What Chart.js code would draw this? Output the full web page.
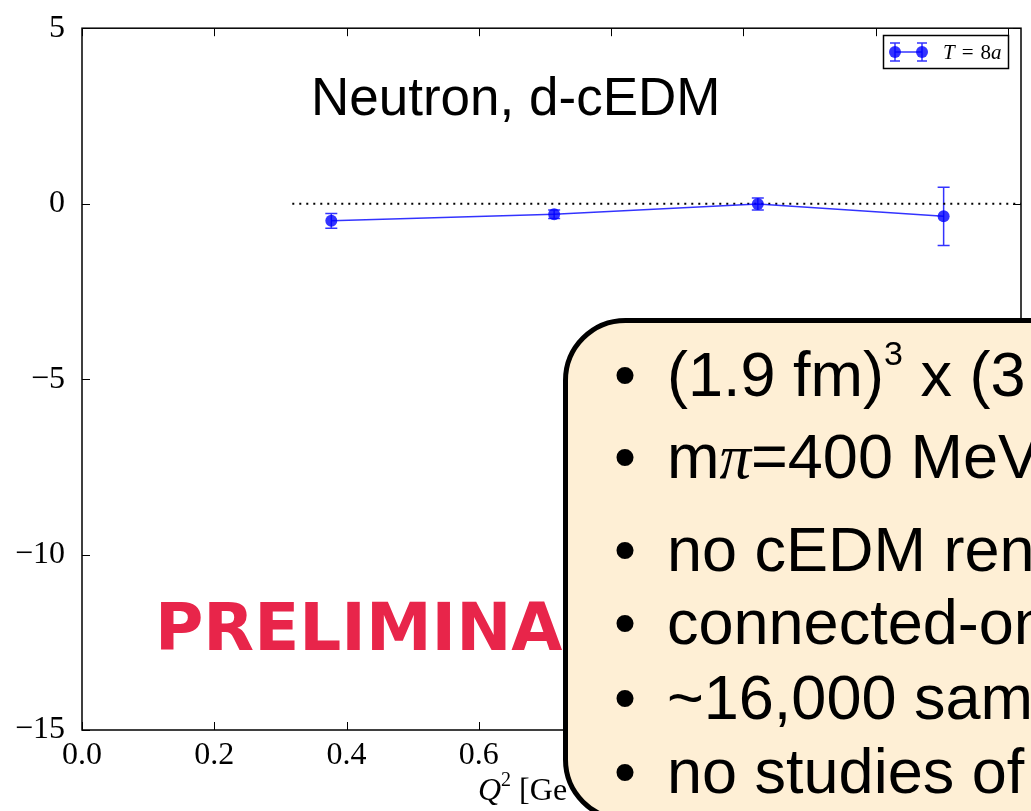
<!DOCTYPE html>
<html>
<head>
<meta charset="utf-8">
<script src="https://cdn.jsdelivr.net/npm/chart.js@4/dist/chart.umd.min.js"></script>
<style>
  html, body { margin: 0; padding: 0; background: #fff; }
  #wrap { width: 1031px; height: 811px; }
</style>
</head>
<body>
<div id="wrap"><canvas id="chart-dcedm" width="1031" height="811"></canvas></div>
<script>
// data
const q2 = [0.377, 0.714, 1.022, 1.303];
const dcedm = [-0.49, -0.30, -0.01, -0.36];
const dcedmErr = [0.21, 0.12, 0.17, 0.83];
const zeroLineX = [0.318, 1.42];
const xTicks = [0, 0.2, 0.4, 0.6, 0.8, 1.0, 1.2, 1.4];
const yTicks = [5, 0, -5, -10, -15];

const blue = 'rgba(0,0,255,0.8)';
const serif = '"Liberation Serif", "Times New Roman", serif';
const sans = '"Liberation Sans", Arial, sans-serif';

const canvas = document.getElementById('chart-dcedm');

// error bars, drawn under the markers
const errorBars = {
  id: 'errorBars',
  beforeDatasetsDraw(chart) {
    const ctx = chart.ctx, xs = chart.scales.x, ys = chart.scales.y;
    ctx.save();
    ctx.strokeStyle = blue;
    ctx.lineWidth = 1.5;
    ctx.beginPath();
    q2.forEach((q, i) => {
      const px = xs.getPixelForValue(q);
      const top = ys.getPixelForValue(dcedm[i] + dcedmErr[i]);
      const bot = ys.getPixelForValue(dcedm[i] - dcedmErr[i]);
      ctx.moveTo(px, top); ctx.lineTo(px, bot);
      ctx.moveTo(px - 6, top); ctx.lineTo(px + 6, top);
      ctx.moveTo(px - 6, bot); ctx.lineTo(px + 6, bot);
    });
    ctx.stroke();
    ctx.restore();
  }
};

// frame, inward ticks, legend and the slide overlay
const decorations = {
  id: 'decorations',
  afterDraw(chart) {
    const ctx = chart.ctx, a = chart.chartArea;
    const xs = chart.scales.x, ys = chart.scales.y;
    ctx.save();

    // frame
    ctx.strokeStyle = '#000';
    ctx.lineWidth = 1.5;
    ctx.strokeRect(a.left, a.top, a.right - a.left, a.bottom - a.top);

    // inward ticks
    ctx.lineWidth = 1;
    ctx.beginPath();
    xTicks.forEach(v => {
      const px = Math.round(xs.getPixelForValue(v)) + 0.5;
      ctx.moveTo(px, a.bottom); ctx.lineTo(px, a.bottom - 8);
      ctx.moveTo(px, a.top); ctx.lineTo(px, a.top + 8);
    });
    yTicks.forEach(v => {
      const py = Math.round(ys.getPixelForValue(v)) + 0.5;
      ctx.moveTo(a.left, py); ctx.lineTo(a.left + 8, py);
      ctx.moveTo(a.right, py); ctx.lineTo(a.right - 8, py);
    });
    ctx.stroke();

    // legend
    ctx.fillStyle = '#fff';
    ctx.fillRect(883.5, 35.5, 125, 33);
    ctx.lineWidth = 1.5;
    ctx.strokeRect(883.5, 35.5, 125, 33);
    ctx.strokeStyle = blue;
    ctx.fillStyle = blue;
    ctx.beginPath();
    ctx.moveTo(895, 52); ctx.lineTo(922, 52);
    [895, 922].forEach(mx => {
      ctx.moveTo(mx, 43); ctx.lineTo(mx, 61);
      ctx.moveTo(mx - 5, 43); ctx.lineTo(mx + 5, 43);
      ctx.moveTo(mx - 5, 61); ctx.lineTo(mx + 5, 61);
    });
    ctx.stroke();
    [895, 922].forEach(mx => {
      ctx.beginPath(); ctx.arc(mx, 52, 6, 0, Math.PI * 2); ctx.fill();
    });
    ctx.fillStyle = '#000';
    ctx.textBaseline = 'alphabetic';
    let tx = 943;
    [['T', 'italic', 7], ['=', 'normal', 7], ['8', 'normal', 0], ['a', 'italic', 0]].forEach(([s, st, gap]) => {
      ctx.font = st + ' 21px ' + serif;
      ctx.fillText(s, tx, 59);
      tx += ctx.measureText(s).width + gap;
    });

    // title inside the plot
    ctx.font = '53px ' + sans;
    ctx.fillText('Neutron, d-cEDM', 311, 115);

    // PRELIMINARY stamp
    ctx.fillStyle = '#e8254a';
    ctx.font = 'bold 66px "DejaVu Sans", Verdana, sans-serif';
    ctx.fillText('PRELIMINARY', 155, 650);

    // x axis title
    ctx.fillStyle = '#000';
    tx = 478;
    [['Q', 'italic 32px', 0], ['2', '20px', -14], [' [GeV', '32px', 0], ['2', '20px', -14], [']', '32px', 0]].forEach(([s, f, dy]) => {
      ctx.font = f + ' ' + serif;
      ctx.fillText(s, tx, 800 + dy);
      tx += ctx.measureText(s).width;
    });

    // info box
    ctx.beginPath();
    ctx.roundRect(565.5, 320.5, 600, 499, 60);
    ctx.fillStyle = '#feefd5';
    ctx.fill();
    ctx.lineWidth = 5;
    ctx.strokeStyle = '#000';
    ctx.stroke();

    ctx.fillStyle = '#000';
    const lines = [
      [['(1.9 fm)', 63, 0, sans, ''], ['3', 34, -31, sans, ''], [' x (3.8 fm)', 63, 0, sans, '']],
      [['m', 63, 0, sans, ''], ['\u03c0', 63, 0, serif, 'italic '], ['=400 MeV', 63, 0, sans, '']],
      [['no cEDM renormalization', 63, 0, sans, '']],
      [['connected-only', 63, 0, sans, '']],
      [['~16,000 samples', 63, 0, sans, '']],
      [['no studies of excited states', 63, 0, sans, '']]
    ];
    const baselines = [396, 478, 571, 644, 719, 793];
    lines.forEach((parts, i) => {
      const by = baselines[i];
      ctx.font = '63px ' + sans;
      ctx.fillText('\u2022', 614, by);
      let x = 667;
      parts.forEach(([s, size, dy, fam, st]) => {
        ctx.font = st + size + 'px ' + fam;
        ctx.fillText(s, x, by + dy);
        x += ctx.measureText(s).width;
      });
    });

    ctx.restore();
  }
};

new Chart(canvas, {
  type: 'line',
  data: {
    datasets: [
      {
        label: 'T = 8a',
        data: q2.map((q, i) => ({ x: q, y: dcedm[i] })),
        borderColor: blue,
        backgroundColor: blue,
        borderWidth: 1.5,
        pointRadius: 6,
        pointBorderWidth: 0,
        pointBackgroundColor: blue,
        tension: 0,
      },
      {
        label: 'zero',
        data: zeroLineX.map(x => ({ x: x, y: 0 })),
        borderColor: '#000',
        borderWidth: 2,
        borderDash: [2, 5],
        pointRadius: 0,
      },
    ],
  },
  options: {
    responsive: false,
    animation: false,
    layout: { padding: { top: 27, right: 10, left: 0, bottom: 0 } },
    plugins: {
      legend: { display: false },
      tooltip: { enabled: false },
    },
    scales: {
      x: {
        type: 'linear',
        min: 0,
        max: 1.42,
        grid: { display: false },
        border: { display: false },
        afterBuildTicks: s => { s.ticks = xTicks.map(v => ({ value: v })); },
        afterFit: s => { s.height = 81; },
        ticks: {
          maxRotation: 0,
          autoSkip: false,
          padding: -2,
          color: '#000',
          font: { family: serif, size: 32 },
          callback: v => v.toFixed(1),
        },
      },
      y: {
        min: -15,
        max: 5,
        grid: { display: false },
        border: { display: false },
        afterBuildTicks: s => { s.ticks = yTicks.map(v => ({ value: v })); },
        afterFit: s => { s.width = 82; },
        ticks: {
          padding: 9,
          color: '#000',
          font: { family: serif, size: 32 },
          callback: v => v < 0 ? '\u2212' + Math.abs(v) : String(v),
        },
      },
    },
  },
  plugins: [errorBars, decorations],
});
</script>
</body>
</html>
